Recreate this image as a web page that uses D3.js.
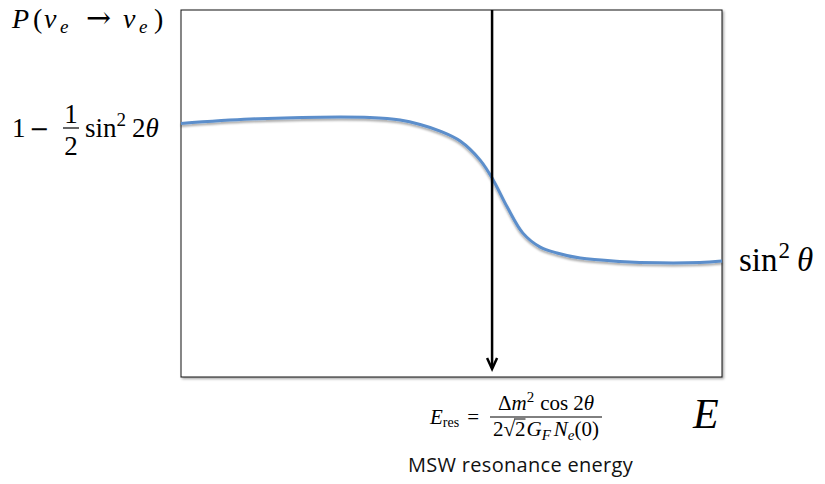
<!DOCTYPE html>
<html>
<head>
<meta charset="utf-8">
<script src="https://cdn.jsdelivr.net/npm/d3@7"></script>
<style>
  html, body { margin: 0; padding: 0; background: #fff; }
  svg { display: block; }
</style>
</head>
<body>
<svg id="chart" width="825" height="484"></svg>
<script>
// ---- data ----
const energy = [0, 1.28, 2.57, 3.49, 4.05, 4.42, 4.79, 5.16, 5.53, 5.77, 6.03, 6.32, 6.64, 6.95, 7.38, 8.11, 8.85, 9.59, 10];
const survivalProb = [0.691, 0.703, 0.708, 0.707, 0.700, 0.688, 0.670, 0.643, 0.591, 0.537, 0.463, 0.392, 0.354, 0.338, 0.324, 0.315, 0.311, 0.312, 0.316];
const resonanceEnergy = [5.75];
const energyDomain = [0, 10];
const probDomain = [0, 1];

const svg = d3.select("#chart");
const plot = { left: 181, right: 722, top: 10, bottom: 377 };

const x = d3.scaleLinear().domain(energyDomain).range([plot.left, plot.right]);
const y = d3.scaleLinear().domain(probDomain).range([plot.bottom, plot.top]);

const SERIF = "'Liberation Serif', 'DejaVu Serif', serif";

// filters
const defs = svg.append("defs");
const f1 = defs.append("filter").attr("id", "shadow").attr("x", "-5%").attr("y", "-5%").attr("width", "110%").attr("height", "110%");
f1.append("feDropShadow").attr("dx", 1.5).attr("dy", 1.5).attr("stdDeviation", 1)
  .attr("flood-color", "#000").attr("flood-opacity", 0.35);
const f2 = defs.append("filter").attr("id", "lshadow").attr("x", "-5%").attr("y", "-20%").attr("width", "110%").attr("height", "140%");
f2.append("feDropShadow").attr("dx", 0).attr("dy", 2).attr("stdDeviation", 1.2)
  .attr("flood-color", "#000").attr("flood-opacity", 0.35);

// frame
svg.append("rect")
  .attr("x", x(energyDomain[0])).attr("y", y(probDomain[1]))
  .attr("width", x(energyDomain[1]) - x(energyDomain[0]))
  .attr("height", y(probDomain[0]) - y(probDomain[1]))
  .attr("fill", "#fff").attr("stroke", "#111").attr("stroke-width", 1)
  .attr("filter", "url(#shadow)");

// curve
const pts = energy.map((e, i) => [e, survivalProb[i]]);
const line = d3.line().x(d => x(d[0])).y(d => y(d[1])).curve(d3.curveCatmullRom.alpha(0.5));
svg.append("path").datum(pts)
  .attr("d", line)
  .attr("fill", "none").attr("stroke", "#5b8ecb").attr("stroke-width", 3)
  .attr("filter", "url(#lshadow)");

// resonance arrow
const ax = x(resonanceEnergy[0]);
const tipY = plot.bottom - 8;
svg.append("line")
  .attr("x1", ax).attr("x2", ax).attr("y1", y(probDomain[1])).attr("y2", tipY - 1)
  .attr("stroke", "#000").attr("stroke-width", 2.5);
svg.append("path")
  .attr("d", `M${ax - 5},${tipY - 11} L${ax},${tipY} L${ax + 5},${tipY - 11}`)
  .attr("fill", "none").attr("stroke", "#000").attr("stroke-width", 2.5)
  .attr("stroke-linejoin", "miter");

// ---- math text helpers ----
function glyph(xPos, yPos, size, txt, italic, anchor) {
  return svg.append("text")
    .attr("x", xPos).attr("y", yPos)
    .attr("font-family", SERIF).attr("font-size", size)
    .attr("font-style", italic ? "italic" : "normal")
    .attr("text-anchor", anchor || "start")
    .attr("fill", "#000").text(txt);
}
function mathText(xPos, yPos, size, segs, anchor) {
  const t = svg.append("text")
    .attr("x", xPos).attr("y", yPos)
    .attr("font-family", SERIF).attr("font-size", size)
    .attr("fill", "#000")
    .attr("text-anchor", anchor || "start");
  let curShift = 0;
  segs.forEach(s => {
    const sp = t.append("tspan").text(s.t);
    if (s.i) sp.attr("font-style", "italic");
    const shift = s.shift || 0;
    if (shift !== curShift) { sp.attr("dy", shift - curShift); curShift = shift; }
    if (s.size) sp.attr("font-size", s.size);
    if (s.dx) sp.attr("dx", s.dx);
  });
  return t;
}

// P(nu_e -> nu_e)
glyph(12, 28, 28, "P", true);
glyph(33, 28, 28, "(", false);
glyph(44, 28, 28, "ν", true);
glyph(60, 33, 19, "e", true);
glyph(86, 28, 30, "→", false).attr("font-family", "'DejaVu Serif', serif");
glyph(123, 28, 28, "ν", true);
glyph(139, 33, 19, "e", true);
glyph(154, 28, 28, ")", false);

// 1 - 1/2 sin^2 2theta
glyph(12, 137, 27, "1", false);
glyph(29, 137, 27, "−", false).attr("font-family", "'DejaVu Serif', serif").attr("font-size", 24);
glyph(71, 123, 27, "1", false, "middle");
svg.append("line").attr("x1", 63).attr("x2", 79).attr("y1", 128).attr("y2", 128)
  .attr("stroke", "#000").attr("stroke-width", 1.2);
glyph(71, 155, 27, "2", false, "middle");
mathText(85, 137, 27, [
  { t: "sin" },
  { t: "2", size: 19, shift: -11 },
  { t: "2", shift: 0, dx: 6 },
  { t: "θ", i: true }
]);

// sin^2 theta at the right
mathText(739, 271, 33, [
  { t: "sin" },
  { t: "2", size: 23, shift: -13, dx: 1 },
  { t: "θ", i: true, shift: 0, dx: 7 }
]);

// E axis label
glyph(693, 428, 42, "E", true);

// E_res formula
mathText(430, 424, 21, [
  { t: "E", i: true },
  { t: "res", size: 14, shift: 3 },
  { t: "=", shift: 0, dx: 8 }
]);
const fracL = 490, fracR = 602, fracC = (fracL + fracR) / 2;
svg.append("line").attr("x1", fracL).attr("x2", fracR).attr("y1", 417).attr("y2", 417)
  .attr("stroke", "#000").attr("stroke-width", 1);
mathText(fracC, 410, 21, [
  { t: "Δ" },
  { t: "m", i: true },
  { t: "2", size: 15, shift: -8 },
  { t: "cos", shift: 0, dx: 6 },
  { t: "2", dx: 5 },
  { t: "θ", i: true }
], "middle");
const den = mathText(fracC, 436, 21, [
  { t: "2√" },
  { t: "2" },
  { t: "G", i: true, dx: 1 },
  { t: "F", i: true, size: 15, shift: 4 },
  { t: "N", i: true, shift: 0, dx: 3 },
  { t: "e", i: true, size: 15, shift: 4 },
  { t: "(0)", shift: 0 }
], "middle");
// overline for the square root
try {
  const node = den.node();
  const r1 = node.getExtentOfChar(1);
  const r2 = node.getExtentOfChar(2);
  svg.append("line")
    .attr("x1", r1.x + r1.width - 1).attr("x2", r2.x + r2.width)
    .attr("y1", r1.y + 2).attr("y2", r1.y + 2)
    .attr("stroke", "#000").attr("stroke-width", 1);
} catch (e) {}

// caption
svg.append("text")
  .attr("x", 408).attr("y", 472)
  .attr("font-family", "'Open Sans', 'Noto Sans', sans-serif")
  .attr("font-size", 20).attr("letter-spacing", 0.3).attr("fill", "#111")
  .text("MSW resonance energy");
</script>
</body>
</html>
